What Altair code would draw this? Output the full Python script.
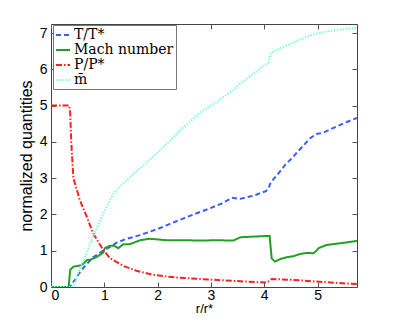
import altair as alt
import pandas as pd

series_names = ["T/T*", "Mach number", "P/P*", "m\u0304"]
colors = ["#3a5cff", "#22a022", "#ff2020", "#7fffd8"]
dashes = [[5, 3], [1, 0], [6, 2, 1.5, 2], [1.5, 1.5]]
widths = [2, 2, 2, 1.3]

t_x = [0, 0.33, 0.36, 0.45, 0.54, 0.65, 0.79, 0.98, 1.1, 1.23, 1.4, 1.67, 2.0, 2.2, 2.5, 2.8, 3.0, 3.2,
       3.4, 3.55, 3.8, 4.03, 4.08, 4.12, 4.25, 4.4, 4.52, 4.62, 4.73, 4.86, 4.98, 5.1, 5.29, 5.55, 5.74]
t_y = [0, 0, 0.02, 0.2, 0.4, 0.6, 0.82, 1.0, 1.1, 1.22, 1.32, 1.43, 1.6, 1.72, 1.9, 2.07, 2.18, 2.3,
       2.46, 2.43, 2.52, 2.64, 2.72, 2.88, 3.1, 3.38, 3.55, 3.72, 3.89, 4.1, 4.22, 4.25, 4.38, 4.55, 4.66]

mach_x = [0, 0.33, 0.36, 0.42, 0.57, 0.62, 0.67, 0.75, 0.86, 0.98, 1.01, 1.11, 1.18, 1.26, 1.36, 1.48,
          1.67, 1.85, 2.17, 2.5, 2.8, 3.1, 3.42, 3.55, 3.8, 4.1, 4.14, 4.2, 4.3, 4.42, 4.55, 4.67, 4.8,
          4.92, 4.98, 5.02, 5.17, 5.4, 5.74]
mach_y = [0, 0, 0.47, 0.56, 0.6, 0.66, 0.74, 0.76, 0.83, 0.95, 1.07, 1.14, 1.14, 1.07, 1.18, 1.18,
          1.29, 1.33, 1.29, 1.29, 1.28, 1.29, 1.28, 1.37, 1.39, 1.41, 0.79, 0.7, 0.77, 0.82, 0.85, 0.91,
          0.94, 0.93, 1.0, 1.07, 1.16, 1.2, 1.27]

p_x = [0, 0.34, 0.36, 0.38, 0.42, 0.54, 0.67, 0.79, 0.98, 1.11, 1.36, 1.6, 1.9, 2.2, 2.5, 2.8, 3.4,
       4.05, 4.14, 4.5, 4.98, 5.4, 5.74]
p_y = [5.0, 5.0, 4.8, 4.0, 3.0, 2.4, 1.94, 1.48, 1.02, 0.79, 0.58, 0.45, 0.34, 0.28, 0.25, 0.22, 0.17,
       0.12, 0.22, 0.2, 0.15, 0.11, 0.08]

m_x = [0, 0.42, 0.5, 0.61, 0.7, 0.79, 0.98, 1.17, 1.42, 1.67, 2.05, 2.42, 2.8, 3.1, 3.42, 3.55, 4.08,
       4.12, 4.36, 4.86, 4.98, 5.2, 5.74]
m_y = [0, 0, 0.35, 0.74, 1.05, 1.39, 2.03, 2.58, 2.95, 3.27, 3.77, 4.32, 4.81, 5.1, 5.43, 5.61, 6.19,
       6.45, 6.62, 6.94, 6.99, 7.05, 7.15]

x_ticks = [0, 1, 2, 3, 4, 5]
y_ticks = [0, 1, 2, 3, 4, 5, 6, 7]

rows = []
for name, xs_, ys_ in zip(series_names, [t_x, mach_x, p_x, m_x], [t_y, mach_y, p_y, m_y]):
    for i, (a, b) in enumerate(zip(xs_, ys_)):
        rows.append({"series": name, "r": a, "v": b, "i": i})
df = pd.DataFrame(rows)

xscale = alt.Scale(domain=[0, 5.74], nice=False, zero=False)
yscale = alt.Scale(domain=[0, 7.25], nice=False)

ax_common = dict(offset=-5, tickSize=5, domain=False, tickColor="#555", grid=False,
                 labelFont="Liberation Sans", labelFontSize=14, labelColor="black",
                 titleFont="Liberation Sans", titleFontSize=16, titleFontWeight="normal",
                 titleColor="black")

legend = alt.Legend(title=None, orient="none", legendX=2, legendY=1, strokeColor="#777",
                    fillColor="white", padding=2, symbolType="stroke", symbolSize=196,
                    symbolStrokeWidth=2, labelFont="DejaVu Serif", labelFontSize=14,
                    labelColor="black", rowPadding=0, labelOffset=3)

lines = alt.Chart(df).mark_line(clip=True).encode(
    x=alt.X("r:Q", scale=xscale,
            axis=alt.Axis(title="r/r*", values=x_ticks, orient="bottom", labelPadding=1,
                          titlePadding=0, **{**ax_common, "titleFontSize": 13})),
    y=alt.Y("v:Q", scale=yscale,
            axis=alt.Axis(title="normalized quantities", values=y_ticks, orient="left",
                          labelPadding=4, titlePadding=5, **ax_common)),
    color=alt.Color("series:N", scale=alt.Scale(domain=series_names, range=colors), legend=legend),
    strokeDash=alt.StrokeDash("series:N", scale=alt.Scale(domain=series_names, range=dashes),
                              legend=legend),
    strokeWidth=alt.StrokeWidth("series:N", scale=alt.Scale(domain=series_names, range=widths),
                                legend=None),
    order="i:Q",
)

frame = alt.Chart(df).mark_point(opacity=0).encode(
    x=alt.X("r:Q", scale=xscale, title=None,
            axis=alt.Axis(orient="top", values=x_ticks, labels=False, **ax_common)),
    y=alt.Y("v:Q", scale=yscale, title=None,
            axis=alt.Axis(orient="right", values=y_ticks, labels=False, **ax_common)),
)

chart = alt.layer(lines, frame).resolve_axis(x="independent", y="independent").properties(
    width=306, height=263,
    autosize=alt.AutoSizeParams(type="none"),
    padding={"left": 43, "top": 16, "right": 30, "bottom": 28},
).configure_view(stroke="#444", strokeWidth=1)

chart.save("out.html", embed_options={"renderer": "svg", "actions": False})
